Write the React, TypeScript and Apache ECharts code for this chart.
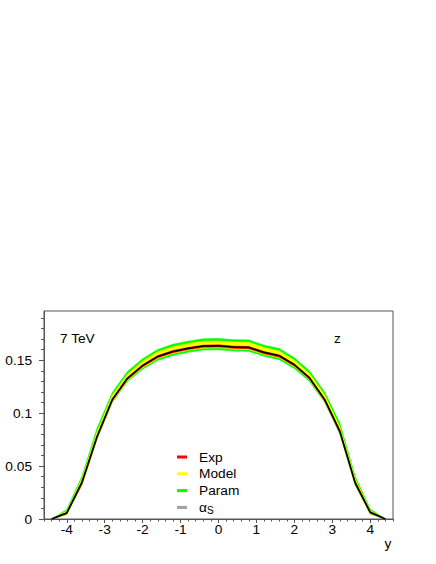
import React, { useEffect, useRef } from "react";
import * as echarts from "echarts";

const xs = [-4.4, -4.0, -3.6, -3.2, -2.8, -2.4, -2.0, -1.6, -1.2, -0.8, -0.4, 0, 0.4, 0.8, 1.2, 1.6, 2.0, 2.4, 2.8, 3.2, 3.6, 4.0, 4.4];
const central = [0, 0.0057, 0.0346, 0.078, 0.1128, 0.133, 0.145, 0.1537, 0.1584, 0.1613, 0.1635, 0.1638, 0.1625, 0.1622, 0.1575, 0.1543, 0.1458, 0.1333, 0.1128, 0.0828, 0.0346, 0.0063, 0];
const expLow = [0, 0.0048, 0.033, 0.0765, 0.1115, 0.1318, 0.1438, 0.1525, 0.1572, 0.1601, 0.1623, 0.1626, 0.1613, 0.161, 0.1563, 0.1531, 0.1446, 0.1321, 0.1115, 0.0813, 0.033, 0.0054, 0];
const expHigh = [0, 0.0063, 0.0355, 0.079, 0.1137, 0.1338, 0.1458, 0.1545, 0.1592, 0.1621, 0.1643, 0.1646, 0.1633, 0.163, 0.1583, 0.1551, 0.1466, 0.1341, 0.1137, 0.0838, 0.0355, 0.0069, 0];
const modelLow = [0, 0.0045, 0.0325, 0.076, 0.111, 0.131, 0.143, 0.1518, 0.1565, 0.1594, 0.1615, 0.1618, 0.1605, 0.1602, 0.1556, 0.1524, 0.144, 0.1315, 0.111, 0.0808, 0.0325, 0.005, 0];
const modelHigh = [0, 0.0075, 0.038, 0.0825, 0.117, 0.137, 0.1492, 0.158, 0.1628, 0.1658, 0.168, 0.1683, 0.1672, 0.167, 0.162, 0.1588, 0.15, 0.1373, 0.117, 0.087, 0.038, 0.008, 0];
const paramLow = [0, 0.0042, 0.032, 0.0755, 0.11, 0.13, 0.1415, 0.15, 0.1546, 0.1576, 0.1597, 0.16, 0.1588, 0.1585, 0.1538, 0.1506, 0.1422, 0.13, 0.11, 0.08, 0.032, 0.0046, 0];
const paramHigh = [0, 0.009, 0.0405, 0.086, 0.1195, 0.1395, 0.1515, 0.1603, 0.1652, 0.1681, 0.1703, 0.1706, 0.1695, 0.1693, 0.1643, 0.1612, 0.1523, 0.1398, 0.1198, 0.0905, 0.0405, 0.0095, 0];
const alphaLow = [0, 0.0054, 0.0342, 0.0776, 0.1124, 0.1326, 0.1446, 0.1533, 0.158, 0.1609, 0.1631, 0.1634, 0.1621, 0.1618, 0.1571, 0.1539, 0.1454, 0.1329, 0.1124, 0.0824, 0.0342, 0.006, 0];
const alphaHigh = [0, 0.006, 0.035, 0.0784, 0.1132, 0.1334, 0.1454, 0.1541, 0.1588, 0.1617, 0.1639, 0.1642, 0.1629, 0.1626, 0.1579, 0.1547, 0.1462, 0.1337, 0.1132, 0.0832, 0.035, 0.0066, 0];

const xMajorTicks = [-4, -3, -2, -1, 0, 1, 2, 3, 4];
const xMinorTicks = [-4.6, -4.4, -4.2, -3.8, -3.6, -3.4, -3.2, -2.8, -2.6, -2.4, -2.2, -1.8, -1.6, -1.4, -1.2, -0.8, -0.6, -0.4, -0.2, 0.2, 0.4, 0.6, 0.8, 1.2, 1.4, 1.6, 1.8, 2.2, 2.4, 2.6, 2.8, 3.2, 3.4, 3.6, 3.8, 4.2, 4.4, 4.6];
const yMajorTicks = [0, 0.05, 0.1, 0.15];
const yMinorTicks = [0.01, 0.02, 0.03, 0.04, 0.06, 0.07, 0.08, 0.09, 0.11, 0.12, 0.13, 0.14, 0.16, 0.17, 0.18, 0.19];

const legendNames = ["Exp", "Model", "Param", "αS"];
const legendColors = ["#ff0000", "#ffff00", "#00ff00", "#a0a0a0"];

const FONT = "'Liberation Sans', Arial, Helvetica, sans-serif";
const FS = 13.7;
const AXIS = "#555555";

export default function App() {
  const ref = useRef<HTMLDivElement>(null);
  useEffect(() => {
    document.body.style.margin = "0";
    const chart = echarts.init(ref.current!, null, { renderer: "svg" });
    const pts = (arr: number[]) => xs.map((x, i) => [x, arr[i]]);
    const band = (name: string, color: string, lo: number[], hi: number[], z: number) => ({
      type: "custom",
      name,
      coordinateSystem: "cartesian2d",
      color,
      itemStyle: { color },
      silent: true,
      z,
      clip: true,
      encode: { x: 0, y: [1, 2] },
      data: xs.map((x, i) => [x, lo[i], hi[i]]),
      renderItem: (params: any, api: any) => {
        if (params.dataIndex !== 0) return null;
        const upper = xs.map((x, i) => api.coord([x, hi[i]]));
        const lower = xs.map((x, i) => api.coord([x, lo[i]])).reverse();
        return {
          type: "polygon",
          shape: { points: upper.concat(lower) },
          style: { fill: color, stroke: color, lineWidth: 0.6 },
        };
      },
    });
    const series: any[] = [
      band("Param", legendColors[2], paramLow, paramHigh, 2),
      band("Model", legendColors[1], modelLow, modelHigh, 3),
      band("αS", legendColors[3], alphaLow, alphaHigh, 4),
      band("Exp", legendColors[0], expLow, expHigh, 5),
      {
        type: "line",
        name: "central",
        data: pts(central),
        symbol: "none",
        lineStyle: { width: 1.6, color: "#000" },
        color: "#000",
        silent: true,
        z: 6,
      },
    ];
    const axisCommon = { type: "value", min: -4.6, max: 4.6, splitLine: { show: false } };
    chart.setOption({
      animation: false,
      backgroundColor: "#ffffff",
      textStyle: { fontFamily: FONT },
      grid: { left: 44, right: 43, top: 311, bottom: 45, show: true, borderColor: AXIS, borderWidth: 1, backgroundColor: "transparent" },
      xAxis: [
        {
          ...axisCommon,
          position: "bottom",
          name: "y",
          nameLocation: "end",
          nameGap: -5,
          nameTextStyle: { fontSize: FS, color: "#000", fontFamily: FONT, align: "center", verticalAlign: "top", padding: [17, 0, 0, 0] },
          axisLine: { show: true, onZero: false, lineStyle: { color: AXIS, width: 1 } },
          axisTick: { show: true, customValues: xMajorTicks, length: 4, inside: false, lineStyle: { color: AXIS } },
          axisLabel: { show: true, customValues: xMajorTicks, margin: 3, color: "#000", fontSize: FS, fontFamily: FONT },
        },
        {
          ...axisCommon,
          position: "bottom",
          offset: 0,
          axisLine: { show: false, onZero: false },
          axisTick: { show: true, customValues: xMinorTicks, length: 2.5, inside: false, lineStyle: { color: AXIS } },
          axisLabel: { show: false },
        },
      ],
      yAxis: [
        {
          type: "value",
          min: 0,
          max: 0.1966,
          position: "left",
          splitLine: { show: false },
          axisLine: { show: true, onZero: false, lineStyle: { color: AXIS, width: 1 } },
          axisTick: { show: true, customValues: yMajorTicks, length: 5, inside: false, lineStyle: { color: AXIS } },
          axisLabel: { show: true, customValues: yMajorTicks, margin: 12, color: "#000", fontSize: FS, fontFamily: FONT },
        },
        {
          type: "value",
          min: 0,
          max: 0.1966,
          position: "left",
          offset: 0,
          splitLine: { show: false },
          axisLine: { show: false, onZero: false },
          axisTick: { show: true, customValues: yMinorTicks, length: 3, inside: false, lineStyle: { color: AXIS } },
          axisLabel: { show: false },
        },
      ],
      legend: {
        orient: "vertical",
        left: 172,
        top: 445,
        z: 10,
        itemWidth: 10,
        itemHeight: 3,
        itemGap: 2.8,
        icon: "rect",
        selectedMode: false,
        data: legendNames.map((n, i) => ({ name: n, itemStyle: { color: legendColors[i] } })),
        formatter: (n: string) => (n === "αS" ? "{a|α}{s|S}" : n),
        textStyle: {
          fontSize: FS,
          color: "#000",
          fontFamily: FONT,
          padding: [0, 0, 0, 7],
          rich: {
            a: { fontSize: FS, color: "#000", fontFamily: FONT },
            s: { fontSize: 10, color: "#000", fontFamily: FONT, padding: [7, 0, 0, 0] },
          },
        },
      },
      graphic: [
        { type: "text", left: 60, top: 331, style: { text: "7 TeV", fontSize: FS, fill: "#000", fontFamily: FONT } },
        { type: "text", left: 334, top: 331, style: { text: "z", fontSize: FS, fill: "#000", fontFamily: FONT } },
      ],
      series,
    });
    return () => chart.dispose();
  }, []);
  return <div ref={ref} style={{ width: 436, height: 564 }} />;
}
